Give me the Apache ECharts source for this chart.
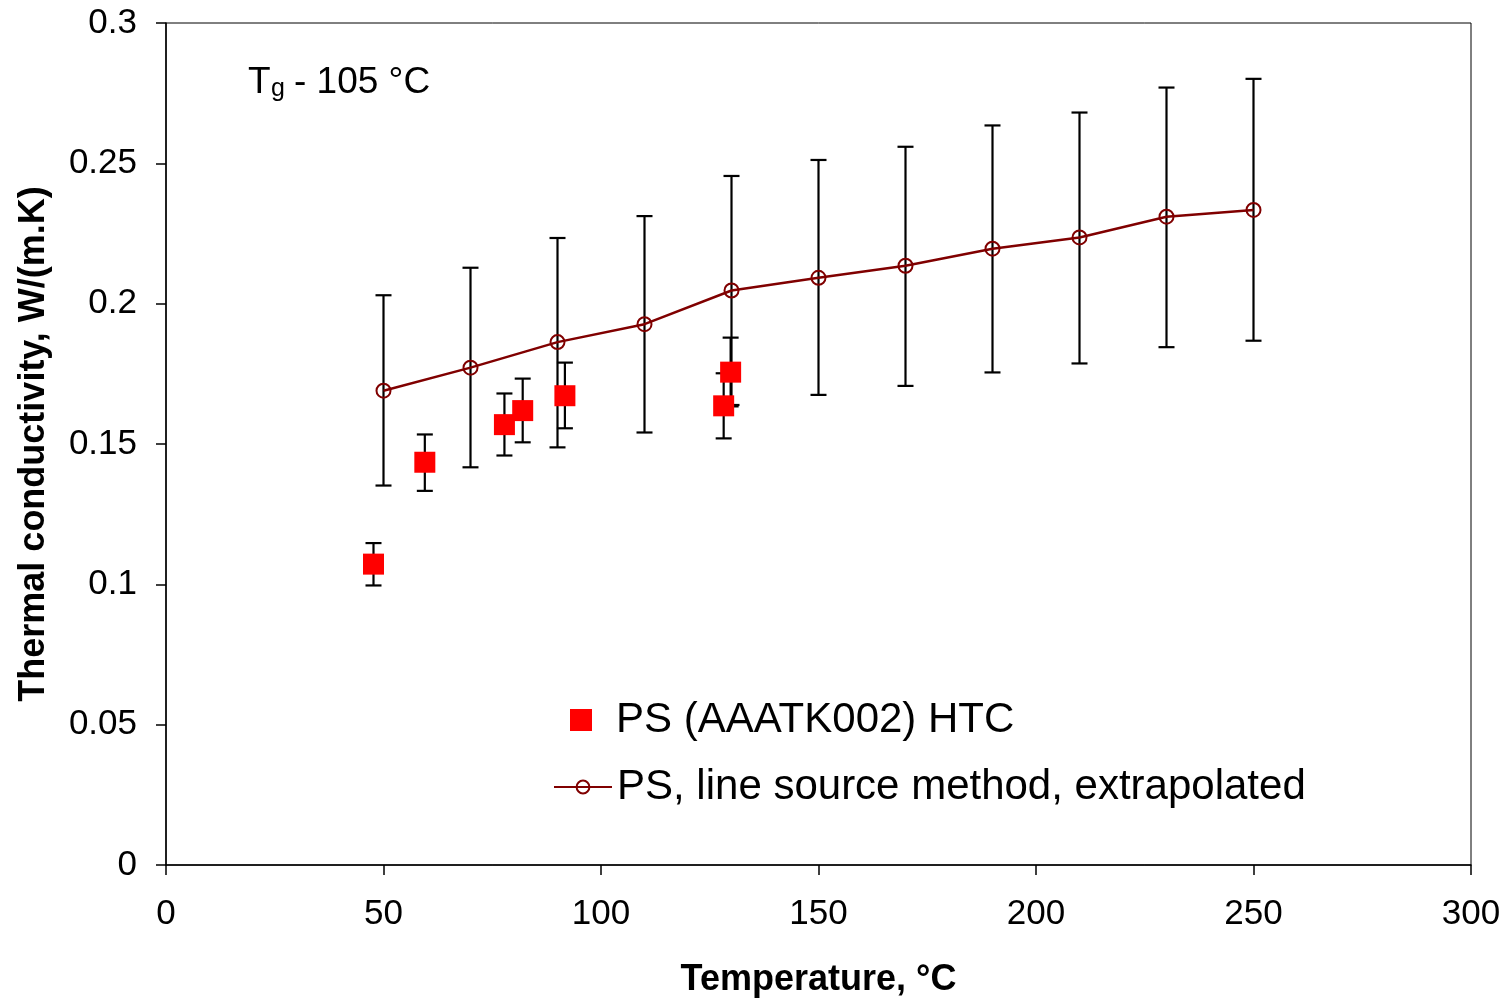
<!DOCTYPE html>
<html>
<head>
<meta charset="utf-8">
<script src="https://cdn.jsdelivr.net/npm/echarts@6/dist/echarts.min.js"></script>
<style>
html,body{margin:0;padding:0;background:#fff;overflow:hidden;}
#chart{width:1512px;height:1003px;}
</style>
</head>
<body>
<div id="chart"></div>
<script>
// ---- data ----
const lineX    = [50, 70, 90, 110, 130, 150, 170, 190, 210, 230, 250];
const lineY    = [0.1690, 0.1772, 0.1863, 0.1927, 0.2047, 0.2092, 0.2135, 0.2196, 0.2236, 0.2310, 0.2334];
const lineHigh = [0.2030, 0.2128, 0.2234, 0.2312, 0.2455, 0.2512, 0.2559, 0.2635, 0.2681, 0.2770, 0.2801];
const lineLow  = [0.1352, 0.1417, 0.1488, 0.1541, 0.1639, 0.1675, 0.1707, 0.1755, 0.1787, 0.1845, 0.1868];

const htcX    = [47.7, 59.5, 77.8, 82.0, 91.7, 128.2, 129.8];
const htcY    = [0.1072, 0.1435, 0.1569, 0.1619, 0.1672, 0.1636, 0.1756];
const htcHigh = [0.1147, 0.1534, 0.1680, 0.1733, 0.1790, 0.1752, 0.1879];
const htcLow  = [0.0996, 0.1333, 0.1459, 0.1506, 0.1556, 0.1520, 0.1634];

const seriesNames = ['PS (AAATK002) HTC', 'PS, line source method, extrapolated'];
const xAxisName = 'Temperature, °C';
const yAxisName = 'Thermal conductivity, W/(m.K)';

// ---- chart ----
const FONT = '"Liberation Sans", Arial, sans-serif';
const chart = echarts.init(document.getElementById('chart'), null, {renderer: 'canvas'});

function errorBar(params, api) {
  const x = api.value(0), lo = api.value(1), hi = api.value(2);
  const pHi = api.coord([x, hi]);
  const pLo = api.coord([x, lo]);
  const w = 8;
  const style = {stroke: '#000', lineWidth: 2.2};
  return {
    type: 'group',
    children: [
      {type: 'line', shape: {x1: pHi[0], y1: pHi[1], x2: pLo[0], y2: pLo[1]}, style: style},
      {type: 'line', shape: {x1: pHi[0] - w, y1: pHi[1], x2: pHi[0] + w, y2: pHi[1]}, style: style},
      {type: 'line', shape: {x1: pLo[0] - w, y1: pLo[1], x2: pLo[0] + w, y2: pLo[1]}, style: style}
    ]
  };
}

const lineErr = lineX.map((x, i) => [x, lineLow[i], lineHigh[i]]);
const htcErr = htcX.map((x, i) => [x, htcLow[i], htcHigh[i]]);

const option = {
  backgroundColor: '#fff',
  animation: false,
  textStyle: {fontFamily: FONT},
  grid: {left: 166, right: 41, top: 23, bottom: 134, show: true, borderColor: '#000', borderWidth: 1},
  legend: [
    {
      data: [{name: seriesNames[0], icon: 'path://M0,0M58,22M17,0H39V22H17Z'}],
      orient: 'vertical', left: 553, top: 699, padding: 0,
      itemWidth: 58, itemHeight: 22,
      textStyle: {fontSize: 42, color: '#000', fontFamily: FONT},
      selectedMode: false
    },
    {
      data: [seriesNames[1]],
      orient: 'vertical', left: 553, top: 766, padding: 0,
      itemWidth: 58, itemHeight: 16,
      textStyle: {fontSize: 42, color: '#000', fontFamily: FONT},
      selectedMode: false
    }
  ],
  xAxis: {
    type: 'value', min: 0, max: 300, interval: 50,
    name: xAxisName, nameLocation: 'middle', nameGap: 97,
    nameTextStyle: {fontSize: 36, fontWeight: 'bold', color: '#000', fontFamily: FONT},
    axisLine: {show: true, lineStyle: {color: '#000', width: 1.5}},
    axisTick: {show: true, inside: false, length: 10, lineStyle: {color: '#000', width: 1.5}},
    axisLabel: {fontSize: 35, color: '#000', margin: 32, fontFamily: FONT},
    splitLine: {show: false}
  },
  yAxis: {
    type: 'value', min: 0, max: 0.3, interval: 0.05,
    name: yAxisName, nameLocation: 'middle', nameGap: 114,
    nameTextStyle: {fontSize: 36, fontWeight: 'bold', color: '#000', fontFamily: FONT},
    axisLine: {show: true, lineStyle: {color: '#000', width: 1.5}},
    axisTick: {show: true, inside: false, length: 10, lineStyle: {color: '#000', width: 1.5}},
    axisLabel: {fontSize: 35, color: '#000', margin: 29, fontFamily: FONT},
    splitLine: {show: false}
  },
  graphic: [
    {type: 'text', left: 248, top: 64, style: {text: 'T', fontSize: 37, fontFamily: FONT, fill: '#000'}},
    {type: 'text', left: 271, top: 77, style: {text: 'g', fontSize: 25, fontFamily: FONT, fill: '#000'}},
    {type: 'text', left: 294, top: 64, style: {text: '- 105 °C', fontSize: 37, fontFamily: FONT, fill: '#000'}}
  ],
  series: [
    {
      name: 'lineErr', type: 'custom', renderItem: errorBar,
      data: lineErr, encode: {x: 0, y: [1, 2]}, z: 2, silent: true
    },
    {
      name: 'htcErr', type: 'custom', renderItem: errorBar,
      data: htcErr, encode: {x: 0, y: [1, 2]}, z: 2, silent: true
    },
    {
      name: seriesNames[1], type: 'line',
      data: lineX.map((x, i) => [x, lineY[i]]),
      symbol: 'circle', symbolSize: 14, showSymbol: true,
      lineStyle: {color: '#800000', width: 2.5},
      itemStyle: {color: 'rgba(255,255,255,0)', borderColor: '#800000', borderWidth: 2},
      z: 3
    },
    {
      name: seriesNames[0], type: 'scatter',
      data: htcX.map((x, i) => [x, htcY[i]]),
      symbol: 'rect', symbolSize: 21,
      itemStyle: {color: '#ff0000', opacity: 1},
      z: 4
    }
  ]
};
chart.setOption(option);
</script>
</body>
</html>
